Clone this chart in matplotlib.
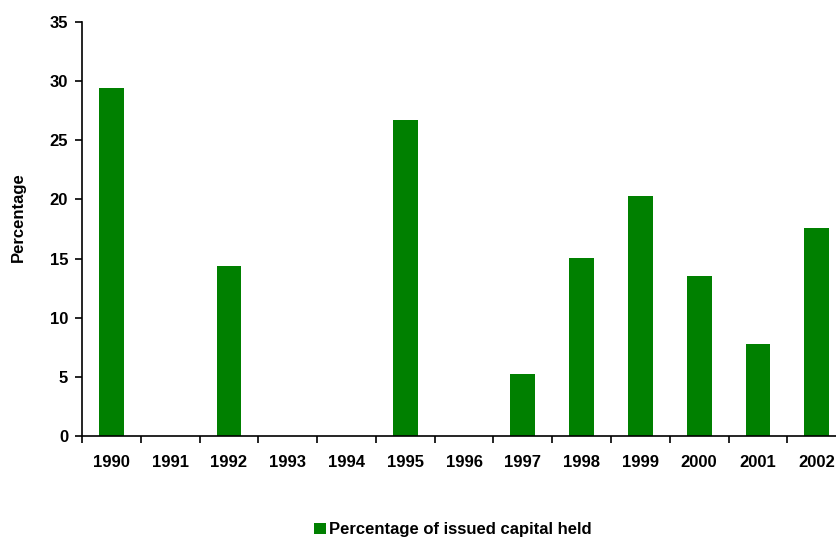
import matplotlib.pyplot as plt
import numpy as np

years = ["1990", "1991", "1992", "1993", "1994", "1995", "1996",
         "1997", "1998", "1999", "2000", "2001", "2002"]
capital_held = [29.4, 0, 14.4, 0, 0, 26.7, 0, 5.25, 15.05, 20.3, 13.5, 7.8, 17.6]

plt.rcParams['font.family'] = ['Liberation Sans', 'DejaVu Sans']
plt.rcParams['font.weight'] = 'bold'

fig = plt.figure(figsize=(8.36, 5.38), dpi=100)
ax = fig.add_axes([0.0981, 0.1896, 0.914, 0.7695])

x = np.arange(len(years))
ax.bar(x, capital_held, width=0.42, color="#008000",
       label="Percentage of issued capital held")

ax.set_xlim(-0.5, len(years) - 0.5)
ax.set_ylim(0, 35)
ax.set_yticks(range(0, 36, 5))

# category labels sit between the tick marks
ax.set_xticks(x)
ax.set_xticklabels(years)
ax.set_xticks(np.arange(-0.5, len(years), 1), minor=True)
ax.tick_params(axis='x', which='major', length=0, pad=14, labelsize=12)
ax.tick_params(axis='x', which='minor', length=5, width=1.2, direction='out')
ax.tick_params(axis='y', length=5, width=1.2, pad=5, labelsize=12)

for side in ("top", "right"):
    ax.spines[side].set_visible(False)
for side in ("left", "bottom"):
    ax.spines[side].set_linewidth(1.2)

fig.text(18 / 836, 1 - 217 / 538, "Percentage", rotation=90,
         ha='center', va='center', fontsize=12, fontweight='bold')

fig.legend(loc='center', bbox_to_anchor=(0.542, 0.015), frameon=False,
           fontsize=12, handlelength=0.7, handleheight=0.7,
           handletextpad=0.2)

fig.savefig("out.png", dpi=100)
